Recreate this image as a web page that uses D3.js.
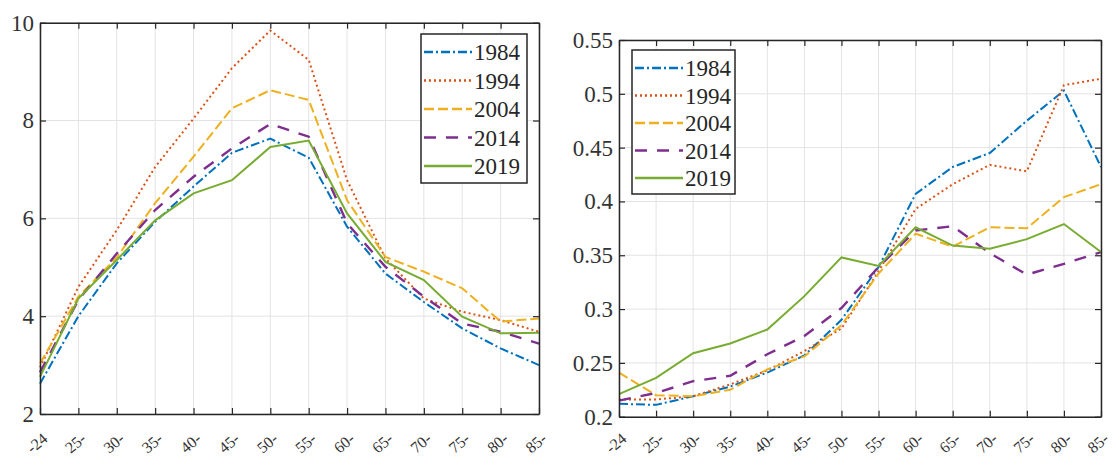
<!DOCTYPE html>
<html>
<head>
<meta charset="utf-8">
<script src="https://cdn.jsdelivr.net/npm/d3@7"></script>
<style>
  body { margin: 0; background: #fff; }
  svg { display: block; }
  svg text { font-family: "Liberation Serif", "Times New Roman", Times, "DejaVu Serif", serif !important; }
</style>
</head>
<body>
<svg id="chart" width="1113" height="458"></svg>
<script>
// age groups on the x axis
var ageGroups = ["-24", "25-", "30-", "35-", "40-", "45-", "50-", "55-", "60-", "65-", "70-", "75-", "80-", "85-"];
var years = ["1984", "1994", "2004", "2014", "2019"];

// left panel values
var left1984 = [2.62, 4.0, 5.08, 5.93, 6.65, 7.34, 7.63, 7.24, 5.83, 4.87, 4.29, 3.75, 3.34, 3.0];
var left1994 = [2.95, 4.6, 5.76, 7.05, 8.04, 9.07, 9.84, 9.24, 6.78, 5.18, 4.36, 4.09, 3.92, 3.68];
var left2004 = [3.03, 4.4, 5.2, 6.31, 7.26, 8.25, 8.62, 8.42, 6.37, 5.21, 4.91, 4.57, 3.89, 3.95];
var left2014 = [2.85, 4.33, 5.28, 6.17, 6.85, 7.43, 7.93, 7.67, 5.9, 5.01, 4.4, 3.85, 3.68, 3.44];
var left2019 = [2.76, 4.36, 5.15, 5.96, 6.51, 6.78, 7.46, 7.59, 6.1, 5.11, 4.74, 3.99, 3.65, 3.66];
var leftTicks = [2, 4, 6, 8, 10];

// right panel values
var right1984 = [0.212, 0.211, 0.219, 0.228, 0.241, 0.257, 0.29, 0.339, 0.407, 0.432, 0.445, 0.475, 0.503, 0.432];
var right1994 = [0.216, 0.216, 0.219, 0.23, 0.243, 0.261, 0.282, 0.335, 0.393, 0.416, 0.434, 0.428, 0.508, 0.514];
var right2004 = [0.241, 0.22, 0.219, 0.225, 0.244, 0.256, 0.285, 0.333, 0.37, 0.358, 0.376, 0.375, 0.404, 0.416];
var right2014 = [0.215, 0.222, 0.233, 0.238, 0.258, 0.275, 0.301, 0.339, 0.373, 0.377, 0.352, 0.332, 0.342, 0.353];
var right2019 = [0.221, 0.236, 0.259, 0.268, 0.281, 0.312, 0.348, 0.34, 0.376, 0.359, 0.356, 0.365, 0.379, 0.353];
var rightTicks = [0.2, 0.25, 0.3, 0.35, 0.4, 0.45, 0.5, 0.55];

var colors = ["#0072BD", "#D95319", "#EDB120", "#7E2F8E", "#77AC30"];
var dashes = ["9,3,2,3", "2,3", "10,4", "12,10", null];

var svg = d3.select("#chart");

function drawPanel(box, series, yTicks, yDomain, fmt, legendBox) {
	var x = d3.scalePoint().domain(ageGroups).range([box.left, box.right]);
	var y = d3.scaleLinear().domain(yDomain).range([box.bottom, box.top]);
	var g = svg.append("g");

	// grid
	g.selectAll(".gx").data(ageGroups).enter().append("line")
		.attr("x1", function(d) { return x(d); })
		.attr("x2", function(d) { return x(d); })
		.attr("y1", box.top).attr("y2", box.bottom)
		.attr("stroke", "#e3e3e3").attr("stroke-width", 1);
	g.selectAll(".gy").data(yTicks).enter().append("line")
		.attr("x1", box.left).attr("x2", box.right)
		.attr("y1", function(d) { return y(d); })
		.attr("y2", function(d) { return y(d); })
		.attr("stroke", "#e3e3e3").attr("stroke-width", 1);

	var line = d3.line()
		.x(function(d, i) { return x(ageGroups[i]); })
		.y(function(d) { return y(d); });

	for (var i = 0; i < series.length; i++) {
		g.append("path")
			.attr("d", line(series[i]))
			.attr("fill", "none")
			.attr("stroke", colors[i])
			.attr("stroke-width", i == 3 ? 2.4 : 2)
			.attr("stroke-dasharray", dashes[i]);
	}

	// axes, ticks inside on all four sides
	var axB = d3.axisBottom(x).tickSizeInner(-6).tickSizeOuter(0).tickFormat("");
	var axT = d3.axisTop(x).tickSizeInner(-6).tickSizeOuter(0).tickFormat("");
	var axL = d3.axisLeft(y).tickValues(yTicks).tickSizeInner(-6).tickSizeOuter(0).tickFormat(fmt).tickPadding(6);
	var axR = d3.axisRight(y).tickValues(yTicks).tickSizeInner(-6).tickSizeOuter(0).tickFormat("");
	var axes = [
		g.append("g").attr("transform", "translate(0," + box.bottom + ")").call(axB),
		g.append("g").attr("transform", "translate(0," + box.top + ")").call(axT),
		g.append("g").attr("transform", "translate(" + box.left + ",0)").call(axL),
		g.append("g").attr("transform", "translate(" + box.right + ",0)").call(axR)
	];
	axes.forEach(function(a) {
		a.attr("font-family", null);
		a.selectAll("path").attr("stroke", "#262626").attr("stroke-width", 1.5);
		a.selectAll("line").attr("stroke", "#262626").attr("stroke-width", 1.2);
	});
	axes[2].attr("font-size", null);
	axes[2].selectAll("text")
		.style("font-size", "23px").attr("fill", "#333");

	// rotated age labels, kept inside the picture
	g.selectAll(".xl").data(ageGroups).enter().append("text")
		.attr("transform", function(d) { return "translate(" + (x(d) - 3) + ",443) rotate(-40)"; })
		.attr("text-anchor", "middle")
		.attr("dominant-baseline", "central")
		.style("font-size", "16px")
		.attr("fill", "#333")
		.text(function(d) { return d; });

	// legend
	var lg = g.append("g");
	lg.append("rect")
		.attr("x", legendBox.x).attr("y", legendBox.y)
		.attr("width", legendBox.w).attr("height", legendBox.h)
		.attr("fill", "#fff").attr("stroke", "#262626").attr("stroke-width", 1.5);
	years.forEach(function(yr, i) {
		var cy = legendBox.y + 18 + i * legendBox.step;
		lg.append("line")
			.attr("x1", legendBox.x + 3).attr("x2", legendBox.x + 51)
			.attr("y1", cy).attr("y2", cy)
			.attr("stroke", colors[i]).attr("stroke-width", 2.4)
			.attr("stroke-dasharray", dashes[i]);
		lg.append("text")
			.attr("x", legendBox.x + 53).attr("y", cy)
			.attr("dy", "0.35em")
			.style("font-size", "23px")
			.attr("fill", "#262626")
			.text(yr);
	});
}

drawPanel({left: 40, right: 539, top: 22.7, bottom: 414},
	[left1984, left1994, left2004, left2014, left2019],
	leftTicks, [2, 10], d3.format("d"),
	{x: 421, y: 34, w: 106, h: 149, step: 28.5});

drawPanel({left: 619, right: 1101, top: 40, bottom: 416.7},
	[right1984, right1994, right2004, right2014, right2019],
	rightTicks, [0.2, 0.55], function(d) { return String(+d.toFixed(2)); },
	{x: 632, y: 50, w: 103, h: 144, step: 27.5});
</script>
</body>
</html>
